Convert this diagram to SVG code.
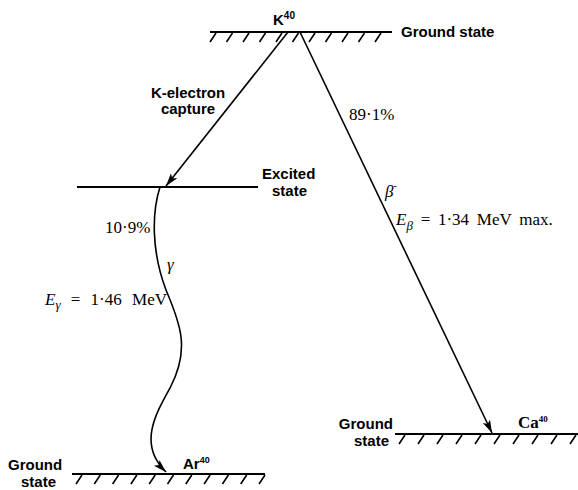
<svg xmlns="http://www.w3.org/2000/svg" width="578" height="490" viewBox="0 0 578 490">
<style>
.lvl{stroke:#000;stroke-width:2.2;fill:none}
.hatch{stroke:#000;stroke-width:1.6;fill:none}
.conn{stroke:#000;stroke-width:1.6;fill:none}
.sans{font-family:"Liberation Sans",Arial,sans-serif;font-weight:bold;font-size:15px;fill:#000}
.serif{font-family:"Liberation Serif","Times New Roman",serif;font-size:17px;fill:#000}
.it{font-style:italic}
</style>
<defs>
<marker id="arr" markerUnits="userSpaceOnUse" markerWidth="14" markerHeight="10" refX="13" refY="4" orient="auto">
<path d="M0,0 L13,4 L0,8 L3,4 z" fill="#000"/>
</marker>
</defs>
<rect width="578" height="490" fill="#fff"/>

<g id="k40">
<line class="lvl" x1="210" y1="32" x2="392" y2="32"/>
<path class="hatch" d="M216,33 l-6,9 M232.5,33 l-6,9 M249,33 l-6,9 M265.5,33 l-6,9 M282,33 l-6,9 M298.5,33 l-6,9 M315,33 l-6,9 M331.5,33 l-6,9 M348,33 l-6,9 M364.5,33 l-6,9 M381,33 l-6,9"/>
<text class="sans" x="273" y="25">K<tspan font-size="10" dy="-6">40</tspan></text>
<text class="sans" x="401" y="37">Ground state</text>
</g>

<g id="excited">
<line class="lvl" x1="77" y1="187" x2="258" y2="187"/>
<text class="sans" x="262" y="179" font-size="14">Excited</text>
<text class="sans" x="272" y="196" font-size="14">state</text>
</g>

<g id="ar40">
<line class="lvl" x1="72" y1="474" x2="265" y2="474"/>
<path class="hatch" d="M82,475 l-6,9 M100.3,475 l-6,9 M118.6,475 l-6,9 M136.9,475 l-6,9 M155.2,475 l-6,9 M173.5,475 l-6,9 M191.8,475 l-6,9 M210.1,475 l-6,9 M228.4,475 l-6,9 M246.7,475 l-6,9 M265,475 l-6,9"/>
<text class="sans" x="8" y="470">Ground</text>
<text class="sans" x="21" y="487">state</text>
<text class="sans" x="183" y="469">Ar<tspan font-size="9" dy="-6">40</tspan></text>
</g>

<g id="ca40">
<line class="lvl" x1="395" y1="434" x2="578" y2="434"/>
<path class="hatch" d="M405,435 l-6,9 M424,435 l-6,9 M443,435 l-6,9 M462,435 l-6,9 M481,435 l-6,9 M500,435 l-6,9 M519,435 l-6,9 M538,435 l-6,9 M557,435 l-6,9 M576,435 l-6,9"/>
<text class="sans" x="393" y="429" text-anchor="end">Ground</text>
<text class="sans" x="389" y="446" text-anchor="end">state</text>
<text class="serif" x="518" y="428" font-weight="bold" font-size="15">Ca<tspan font-size="9" dy="-6">40</tspan></text>
</g>

<g id="connectors">
<line class="conn" x1="288" y1="32" x2="166" y2="186" marker-end="url(#arr)"/>
<line class="conn" x1="300" y1="32" x2="492" y2="433" marker-end="url(#arr)"/>
<path class="conn" d="M160,187 C152,212 151,250 166,290 C181,325 190,350 170,388 C155,415 138,445 166,472" marker-end="url(#arr)"/>
</g>

<g id="labels">
<text class="sans" x="188" y="98" text-anchor="middle" font-size="16">K-electron</text>
<text class="sans" x="188" y="114" text-anchor="middle" font-size="16">capture</text>
<text class="serif" x="349" y="120" font-size="18">89·1%</text>
<text class="serif it" x="385" y="197">β<tspan font-style="normal" font-size="10" dy="-8">-</tspan></text>
<text class="serif" x="396" y="225" font-size="18" word-spacing="3.5"><tspan font-style="italic">E</tspan><tspan font-style="italic" font-size="13" dy="5">β</tspan><tspan dy="-5"> = 1·34 MeV max.</tspan></text>
<text class="serif" x="105" y="233">10·9%</text>
<text class="serif it" x="167" y="270">γ</text>
<text class="serif" x="45" y="305" word-spacing="6"><tspan font-style="italic">E</tspan><tspan font-style="italic" font-size="13" dy="4">γ</tspan><tspan dy="-4"> = 1·46 MeV</tspan></text>
</g>
</svg>
